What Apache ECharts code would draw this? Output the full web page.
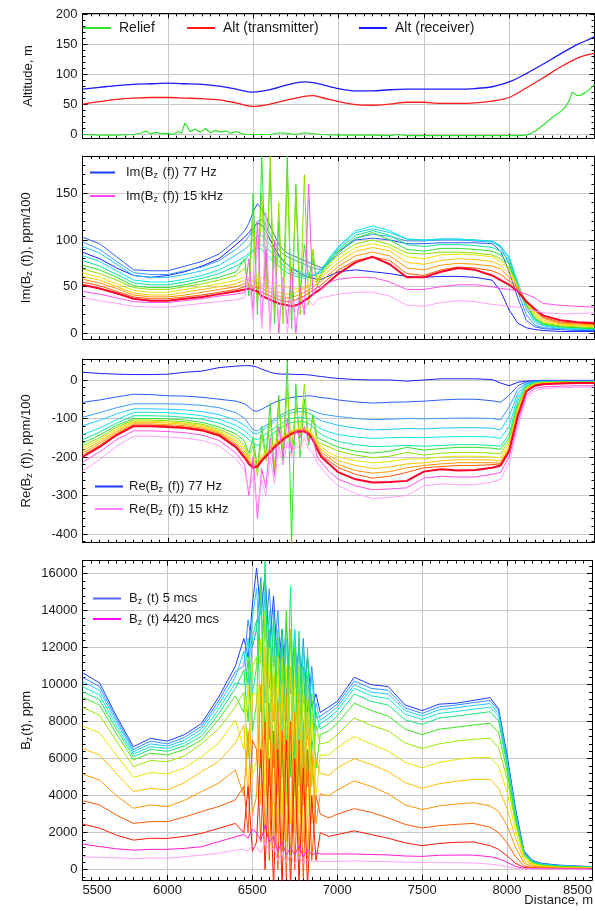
<!DOCTYPE html>
<html><head><meta charset="utf-8">
<script src="https://cdn.jsdelivr.net/npm/echarts@6/dist/echarts.min.js"></script>
<style>html,body{margin:0;padding:0;background:#fff;}#c{width:595px;height:911px;}</style>
</head><body><div id="c"></div>
<script>
// ---------- DATA ----------
const dist = [5500,5600,5700,5800,5900,6000,6100,6200,6300,6400,
  6450,6475,6500,6525,6550,6575,6600,6625,6650,6675,6700,6725,6750,6775,6800,6825,6850,6875,6900,
  6950,7000,7100,7200,7300,7400,7500,7600,7700,7800,7900,
  7950,8000,8050,8100,8150,8200,8300,8400,8500];

const altDist = [5500,5600,5700,5800,5900,6000,6100,6200,6300,6400,6500,6600,6700,6800,6850,6900,7000,7100,7200,7300,7400,7500,7600,7700,7800,7900,8000,8100,8200,8300,8400,8450,8500];
const altRx = [75,78,81,83,84,85,84,83,80,75,70,74,82,87,86,83,76,72,72,74,75,75,75,75,76,79,87,101,117,134,150,156,163];
const altTx = [50,54,58,60,61,61,60,59,57,52,46,50,57,63,64,61,54,49,48,50,53,53,51,51,52,55,61,77,94,112,127,132,135];
const reliefDist = [5500,5600,5700,5800,5850,5870,5900,5930,5960,6000,6030,6060,6080,6100,6110,6130,6160,6190,6220,6250,6280,6310,6340,6370,6400,6430,6460,6500,6600,6650,6700,6750,6800,6900,7000,7100,7200,7300,7350,7400,7500,7600,7700,7800,7900,8000,8050,8100,8130,8160,8200,8250,8300,8330,8350,8370,8380,8400,8420,8450,8480,8500];
const relief = [-1,-2,-2,-1,2,5,0,3,0,1,-1,4,1,18,14,4,8,3,9,2,6,3,5,1,4,1,-1,-1,-1,2,1,-1,2,-1,-2,-2,-2,-3,-1,-3,-3,-3,-3,-3,-3,-3,-3,-2,1,6,15,27,37,45,55,70,72,64,65,70,77,83];

// Im(Bz(f)), 77 Hz ... 15 kHz
const im0 = [87,80,70,62,60,62,66,72,80,95, 103,108,114,118,116,110,100,92,84,78,74,70,67,64,62,60,59,58,58, 62,66,68,66,64,61,60,61,61,60,57, 45,25,11,6,4,3,2,2,2];
const im1 = [103,96,82,68,67,67,72,77,85,100, 110,118,130,139,133,125,115,105,95,90,86,84,82,80,78,76,74,72,70, 78,88,100,102,100,96,96,97,97,97,96, 88,66,38,14,7,5,4,3,3];
const im2 = [98,90,77,65,63,63,67,71,78,90, 98,104,112,120,122,115,106,98,90,85,82,80,78,76,74,72,70,69,68, 76,86,102,106,104,99,99,100,100,99,98, 92,75,45,20,9,6,5,4,4];
const im3 = [93,86,74,62,60,60,63,67,73,84, 90,94,100,104,105,100,95,88,82,78,74,70,68,66,64,63,62,63,66, 80,92,108,112,108,101,100,101,101,100,99, 94,80,52,26,12,8,5,4,4];
const im4 = [83,77,67,57,55,55,58,62,68,77, 82,86,90,94,95,92,88,82,77,73,69,66,64,62,61,61,62,64,68, 82,93,110,115,110,101,100,101,101,100,98, 93,82,55,30,14,9,6,5,5];
const im5 = [78,72,63,54,52,52,55,59,64,72, 78,84,88,92,90,85,80,76,72,68,65,63,61,60,59,60,62,65,68, 80,90,105,110,105,95,93,95,95,94,92, 88,78,52,30,15,10,7,6,5];
const im6 = [73,68,60,51,49,49,52,56,60,66, 80,40,150,20,190,60,175,10,120,30,190,5,160,40,95,60,80,55,65, 78,88,102,108,100,90,88,91,91,90,88, 84,74,50,30,16,10,7,6,5];
const im7 = [69,64,57,49,47,47,50,53,57,62, 70,50,120,30,150,40,190,20,140,10,170,30,150,20,170,30,90,50,62, 75,84,96,100,95,86,85,87,87,86,84, 80,70,50,32,18,11,8,7,6];
const im8 = [65,60,53,46,44,44,47,50,53,57, 60,58,62,58,60,55,55,50,52,48,50,46,48,47,50,52,56,60,64, 72,80,92,96,92,82,80,84,85,84,82, 77,68,50,33,20,12,9,8,7];
const im9 = [61,57,50,43,41,41,44,47,50,53, 57,60,55,58,52,50,48,46,44,42,42,42,44,46,48,50,53,57,60, 68,76,88,92,88,76,74,78,80,79,77, 73,64,50,34,22,14,10,9,8];
const im10 = [58,54,48,41,39,39,41,44,47,50, 53,56,50,54,48,46,44,42,40,38,38,38,40,42,44,46,49,53,56, 64,72,83,87,83,70,68,73,75,74,72, 69,60,49,35,24,16,11,10,9];
const im11 = [55,51,45,39,37,37,39,41,44,47, 50,52,48,50,44,42,40,38,36,35,34,34,36,38,40,43,46,49,52, 60,68,78,82,78,64,62,68,71,70,67, 63,56,48,35,25,17,12,11,10];
const im12 = [52,48,43,37,35,35,37,39,42,45, 47,48,46,45,40,38,36,34,32,31,30,29,30,32,35,38,42,45,48, 56,64,76,82,74,60,60,66,70,68,62, 57,52,45,34,26,19,14,12,11];
const im13 = [45,42,38,34,33,33,35,37,40,42, 44,80,20,120,10,90,5,100,0,60,10,70,0,50,20,160,40,50,48, 55,58,60,60,55,47,47,50,52,52,50, 48,47,45,42,38,32,30,29,28];
const im14 = [38,35,32,29,28,28,30,32,34,36, 38,60,15,100,5,130,0,80,10,60,0,40,10,30,25,35,30,36,38, 40,42,44,44,40,30,29,33,35,34,31, 30,29,28,26,24,22,21,21,22];

// Re(Bz(f)), 77 Hz ... 15 kHz
const re0 = [20,17,15,14,14,15,20,23,32,36, 37,37,36,33,28,24,20,17,16,15,15,15,14,14,14,13,12,10,9, 6,4,1,0,0,-3,0,3,3,3,1, -8,-15,-6,-3,-2,-1,-1,-1,-1];
const re1 = [-58,-52,-44,-37,-38,-41,-42,-45,-50,-55, -62,-70,-80,-81,-76,-70,-64,-58,-54,-51,-48,-46,-44,-43,-42,-41,-42,-44,-46, -48,-52,-57,-60,-58,-57,-55,-52,-50,-50,-54, -58,-40,-15,-5,-3,-2,-2,-2,-2];
const re2 = [-97,-85,-72,-62,-62,-62,-63,-66,-72,-85, -100,-115,-130,-132,-125,-118,-110,-102,-95,-88,-82,-78,-75,-74,-74,-76,-80,-85,-88, -92,-95,-100,-103,-102,-100,-101,-100,-99,-99,-100, -104,-70,-25,-8,-4,-3,-3,-3,-3];
const re3 = [-119,-105,-88,-75,-75,-76,-78,-82,-90,-105, -118,-128,-138,-140,-132,-124,-116,-108,-100,-94,-88,-85,-83,-82,-83,-86,-92,-100,-106, -112,-118,-125,-130,-128,-126,-127,-125,-124,-124,-125, -130,-95,-35,-10,-5,-4,-4,-4,-4];
const re4 = [-142,-125,-103,-84,-84,-85,-88,-93,-102,-118, -132,-142,-152,-155,-148,-140,-132,-124,-116,-110,-104,-100,-98,-97,-98,-102,-110,-120,-128, -136,-142,-148,-152,-150,-149,-150,-148,-147,-147,-148, -152,-120,-45,-12,-6,-5,-4,-4,-4];
const re5 = [-155,-135,-112,-93,-93,-94,-97,-102,-112,-130, -145,-155,-165,-170,-162,-154,-145,-136,-128,-121,-115,-111,-109,-108,-109,-113,-122,-133,-142, -152,-160,-168,-173,-172,-170,-172,-170,-168,-168,-170, -172,-140,-55,-15,-7,-5,-5,-5,-5];
const re6 = [-164,-143,-118,-100,-100,-101,-104,-110,-122,-140, -160,-190,-150,-230,-120,-200,-60,-250,-40,-220,50,-425,-10,-200,-50,-170,-90,-150,-155, -165,-175,-185,-190,-185,-175,-182,-178,-175,-175,-177, -180,-150,-65,-18,-8,-6,-5,-5,-5];
const re7 = [-171,-150,-123,-104,-104,-106,-109,-115,-128,-148, -170,-200,-170,-250,-140,-210,-100,-230,-60,-190,-20,-180,-60,-150,-10,-160,-100,-160,-165, -175,-185,-195,-202,-198,-188,-195,-190,-188,-188,-190, -192,-158,-70,-20,-9,-7,-6,-6,-6];
const re8 = [-177,-155,-128,-107,-107,-109,-112,-118,-132,-155, -178,-200,-215,-205,-195,-185,-175,-165,-155,-145,-138,-132,-128,-126,-126,-130,-142,-160,-175, -190,-200,-210,-215,-212,-205,-205,-200,-198,-198,-200, -202,-165,-75,-22,-10,-7,-6,-6,-6];
const re9 = [-184,-160,-132,-110,-110,-112,-115,-121,-135,-160, -185,-205,-220,-215,-200,-190,-180,-168,-158,-148,-140,-134,-130,-128,-128,-133,-146,-165,-182, -198,-210,-222,-230,-226,-218,-215,-210,-207,-207,-208, -210,-172,-80,-24,-11,-8,-7,-7,-7];
const re10 = [-190,-165,-136,-114,-114,-116,-119,-125,-138,-165, -192,-210,-222,-218,-205,-193,-182,-170,-160,-150,-142,-136,-132,-130,-130,-136,-150,-170,-188, -205,-220,-235,-242,-238,-228,-222,-218,-215,-215,-215, -216,-178,-85,-26,-12,-9,-8,-8,-7];
const re11 = [-196,-170,-140,-117,-117,-119,-122,-128,-141,-170, -198,-215,-225,-222,-208,-196,-185,-172,-162,-152,-145,-138,-134,-132,-132,-138,-153,-175,-195, -212,-228,-245,-255,-250,-240,-228,-225,-222,-222,-220, -218,-182,-90,-28,-14,-10,-9,-8,-8];
const re12 = [-200,-174,-143,-120,-120,-122,-125,-131,-144,-175, -202,-218,-228,-225,-210,-198,-187,-175,-165,-155,-147,-140,-136,-134,-134,-140,-156,-180,-200, -220,-240,-258,-266,-265,-262,-238,-232,-235,-234,-228, -222,-185,-95,-30,-15,-11,-9,-8,-8];
const re13 = [-214,-187,-155,-132,-132,-134,-137,-143,-157,-190, -220,-300,-200,-360,-230,-280,-150,-250,-120,-200,-100,-190,-130,-150,-120,-160,-150,-200,-215, -240,-258,-275,-285,-283,-280,-255,-250,-252,-252,-245, -240,-200,-110,-40,-22,-18,-16,-15,-15];
const re14 = [-237,-207,-172,-146,-146,-148,-151,-157,-170,-205, -235,-290,-250,-330,-260,-300,-200,-270,-170,-220,-160,-200,-170,-180,-150,-180,-190,-215,-230, -255,-275,-295,-308,-305,-300,-275,-270,-272,-272,-265, -258,-215,-125,-48,-28,-22,-20,-19,-18];

// Bz(t), 5 mcs ... 4420 mcs
const bz0 = [10650,10100,8300,6650,7100,6950,7300,7900,9300,11000, 12500,11500,14300,16300,13800,16000,12000,14800,10500,13000,9500,12500,9800,12000,9000,11500,8800,9500,8500, 8800,9100,10400,10000,9900,8900,8600,8950,9000,9150,9300, 8700,6200,3300,1000,500,350,250,200,170];
const bz1 = [10400,9900,8150,6500,6950,6800,7150,7750,9100,10700, 11000,13500,12000,13000,15800,12500,15200,11000,14000,10000,13500,9500,12800,9000,12500,8500,11000,8200,8300, 8600,8950,10200,9800,9700,8750,8450,8800,8900,9030,9150, 8600,6000,3150,950,480,330,230,190,160];
const bz2 = [10160,9700,8000,6380,6800,6680,7000,7600,8900,10400, 11800,10000,13600,15200,11200,15000,9800,13500,8500,12000,8000,13000,8000,12500,7500,10500,7800,9000,8100, 8400,8800,10000,9600,9500,8600,8300,8650,8750,8870,8980, 8450,5900,3050,900,450,310,210,180,150];
const bz3 = [9890,9450,7800,6250,6650,6550,6850,7400,8650,10100, 10000,12500,9500,11000,14500,9000,14000,8000,13000,7500,12500,7000,13000,6800,12000,7000,10500,7500,7900, 8200,8600,9800,9400,9250,8400,8120,8450,8550,8680,8780, 8300,5800,2950,880,430,290,200,170,140];
const bz4 = [9620,9200,7600,6110,6500,6400,6700,7200,8400,9800, 10800,8000,12500,13500,8500,16700,7000,14000,6000,13000,6000,15300,6000,12900,5500,12000,6500,8500,7600, 7900,8300,9500,9100,8900,8100,7850,8200,8300,8420,8540, 8050,5600,2800,850,400,270,190,160,130];
const bz5 = [9320,8900,7350,5930,6300,6200,6500,7000,8100,9400, 8500,11500,7500,9000,15500,7000,13000,5500,12500,5000,14000,5000,12000,4500,11000,4500,9500,5500,7300, 7500,7900,9000,8600,8300,7600,7300,7600,7700,7820,7910, 7400,5300,2650,800,380,250,170,150,120];
const bz6 = [8780,8350,6950,5570,5900,5840,6150,6800,7600,8800, 9600,6000,11000,11500,5500,14000,4500,12000,4000,11500,3500,13000,4000,11000,3500,10000,4500,7800,6800, 6900,7300,8200,7800,7500,6850,6550,6800,6950,7050,7100, 6600,4900,2450,750,350,230,150,130,110];
const bz7 = [7770,7400,6200,4990,5250,5170,5500,6110,6830,8090, 6500,10000,5000,6000,12500,4000,12000,3500,11500,3000,11000,2500,10500,3000,10000,2500,8500,4000,6200, 6200,6600,7200,6800,6400,5800,5500,5800,5950,6050,6070, 5600,4200,2100,650,300,200,130,110,100];
const bz8 = [6560,6200,5200,4220,4400,4310,4700,5300,5840,6830, 7800,4000,9500,9500,3500,12000,2500,10500,2000,10000,1500,11000,2000,9500,1500,8500,2500,6000,5200, 5100,5500,6000,5700,5300,4700,4400,4650,4780,4880,4880, 4400,3300,1700,500,250,170,110,100,90];
const bz9 = [5170,4850,4000,3320,3500,3410,3750,4220,4670,5390, 4000,7500,3000,4000,10000,2000,9000,1500,9000,1000,9500,500,8500,1000,7500,500,6500,2500,4100, 4000,4300,4800,4500,4100,3500,3250,3450,3550,3620,3450, 3150,2400,1200,350,180,140,90,80,70];
const bz10 = [3730,3500,2950,2500,2600,2600,2850,3140,3410,3770, 4500,2000,7000,6500,1500,8000,500,7500,0,7500,-500,8000,0,7000,-500,6500,500,4000,3000, 2800,3000,3300,3100,2800,2450,2250,2380,2450,2500,2300, 2000,1450,700,200,120,100,70,70,60];
const bz11 = [2470,2250,1870,1600,1700,1690,1800,1960,2230,2500, 2000,4500,1000,1500,6500,0,6000,-900,6500,-900,7000,-900,6000,-600,5500,-900,4000,500,2000, 1800,1900,2100,1900,1700,1450,1300,1420,1480,1500,1300, 1100,750,350,120,80,70,60,55,50];
const bz12 = [1390,1250,1130,1060,1100,1100,1150,1240,1510,1780, 1900,1700,2200,2000,1600,2400,1500,1800,1000,1500,800,1200,800,1300,700,1100,800,900,850, 850,850,850,820,800,740,720,780,790,790,700, 600,400,180,70,60,50,45,40,40];
const bz13 = [700,660,640,600,640,620,700,790,880,1060, 1100,1000,1300,1200,900,1500,1000,1200,500,900,400,800,300,700,350,600,400,450,450, 450,450,480,450,430,410,390,400,380,360,300, 250,150,80,50,40,40,35,30,30];

const yTitles = ['Altitude, m', '{t|Im(B}{s|z}{t| (f)), ppm/100}', '{t|Re(B}{s|z}{t| (f)), ppm/100}', '{t|B}{s|z}{t|(t), ppm}'];
const legendText = {
  im77: '{t|Im(B}{s|z}{t| (f)) 77 Hz}', im15k: '{t|Im(B}{s|z}{t| (f)) 15 kHz}',
  re77: '{t|Re(B}{s|z}{t| (f)) 77 Hz}', re15k: '{t|Re(B}{s|z}{t| (f)) 15 kHz}',
  bz5: '{t|B}{s|z}{t| (t) 5 mcs}', bz4420: '{t|B}{s|z}{t| (t) 4420 mcs}'
};

// ---------- STYLE ----------
const FONT = '"Liberation Sans", Arial, Helvetica, sans-serif';
const TXT = '#1a1a1a';
const freqColors = ['#1a20ff','#2a5cff','#3a9aff','#20c8ff','#10e6e6','#10e6a0','#30e030','#8ee000','#e6e600','#ffc400','#ff9600','#ff5a00','#ff0028','#ff50ee','#ffa0ff'];
const timeColors = ['#1f3cff','#2f8fff','#22c8ff','#14e6d2','#18e676','#3ee61e','#98e600','#e6e600','#ffc000','#ff9400','#ff5a00','#ff1a00','#ff1ad2','#ffa0ff'];
const layout = [
  {top: 13.3, height: 125.4, min: -8, max: 202, split: 4},
  {top: 156, height: 183.3, min: -6.4, max: 190, split: 4},
  {top: 359, height: 183.7, min: -422.5, max: 54.4, split: 5},
  {top: 560.7, height: 319.3, min: -557, max: 16703, split: 8}
];
const rich = {
  t: {fontSize: 13, fontFamily: FONT, color: TXT},
  s: {fontSize: 9, fontFamily: FONT, color: TXT, padding: [7, 1, 0, 0]}
};
const tickLine = {color: '#000', width: 1};
const plain = v => String(v);

const grid = layout.map(l => ({left: 82.5, right: 0.5, top: l.top, height: l.height}));
const xAxis = [], yAxis = [];
[false, true].forEach(second => {
  layout.forEach((l, i) => {
    xAxis.push({
      type: 'value', gridIndex: i, min: 5500, max: 8500, splitNumber: 6,
      position: second ? 'top' : 'bottom',
      axisLine: {show: true, onZero: false, lineStyle: {color: '#000', width: 1}},
      axisTick: {show: true, inside: true, length: 5, lineStyle: tickLine},
      minorTick: {show: true, splitNumber: 10, length: 3, lineStyle: tickLine},
      splitLine: {show: !second, lineStyle: {color: '#c8c8c8', width: 1}},
      axisLabel: {show: !second && i === 3, fontSize: 13, fontFamily: FONT, color: TXT, margin: 4,
        formatter: plain, alignMinLabel: 'left', alignMaxLabel: 'right'}
    });
    yAxis.push({
      type: 'value', gridIndex: i, min: l.min, max: l.max, splitNumber: l.split,
      position: second ? 'right' : 'left',
      name: second ? '' : yTitles[i], nameLocation: 'middle', nameRotate: 90, nameGap: 48,
      nameMoveOverlap: false,
      nameTextStyle: {fontSize: 13, fontFamily: FONT, color: TXT, rich: rich},
      axisLine: {show: true, onZero: false, lineStyle: {color: '#000', width: 1}},
      axisTick: {show: true, inside: true, length: 5, lineStyle: tickLine},
      minorTick: {show: true, splitNumber: 5, length: 3, lineStyle: tickLine},
      splitLine: {show: !second, lineStyle: {color: '#c8c8c8', width: 1}},
      axisLabel: {show: !second, fontSize: 13, fontFamily: FONT, color: TXT, margin: 5,
        formatter: plain, showMinLabel: false, showMaxLabel: false}
    });
  });
});

function mk(xs, ys, ax, color, width, name, smooth) {
  return {type: 'line', name: name, xAxisIndex: ax, yAxisIndex: ax,
    data: xs.map((x, k) => [x, ys[k]]), symbol: 'none', showSymbol: false,
    smooth: smooth || false,
    lineStyle: {color: color, width: width}, itemStyle: {color: color},
    animation: false, silent: true, clip: true};
}
const series = [];
series.push(mk(reliefDist, relief, 0, '#2ee62e', 1.2, 'Relief'));
series.push(mk(altDist, altTx, 0, '#ff1a1a', 1.3, 'Alt (transmitter)', 0.3));
series.push(mk(altDist, altRx, 0, '#1a1aff', 1.3, 'Alt (receiver)', 0.3));
const imAll = [im0,im1,im2,im3,im4,im5,im6,im7,im8,im9,im10,im11,im12,im13,im14];
const reAll = [re0,re1,re2,re3,re4,re5,re6,re7,re8,re9,re10,re11,re12,re13,re14];
const bzAll = [bz0,bz1,bz2,bz3,bz4,bz5,bz6,bz7,bz8,bz9,bz10,bz11,bz12,bz13];
imAll.forEach((v, k) => series.push(mk(dist, v, 1, freqColors[k], k === 12 ? 2 : 1,
  k === 0 ? 'im77' : (k === 14 ? 'im15k' : 'im_' + k))));
reAll.forEach((v, k) => series.push(mk(dist, v, 2, freqColors[k], k === 12 ? 2 : 1,
  k === 0 ? 're77' : (k === 14 ? 're15k' : 're_' + k))));
bzAll.forEach((v, k) => series.push(mk(dist, v, 3, timeColors[k], 1,
  k === 0 ? 'bz5' : (k === 13 ? 'bz4420' : 'bz_' + k))));

const legTS = {fontSize: 13, fontFamily: FONT, color: TXT, rich: rich};
const legTS1 = {fontSize: 14, fontFamily: FONT, color: TXT, padding: [0, 0, 0, 3]};
const legendBase = {icon: 'rect', itemHeight: 2, selectedMode: false, padding: 0,
  formatter: n => legendText[n] || n, textStyle: legTS};
const legend = [
  Object.assign({}, legendBase, {left: 83, top: 21, itemWidth: 28, textStyle: legTS1, data: ['Relief']}),
  Object.assign({}, legendBase, {left: 187, top: 21, itemWidth: 28, textStyle: legTS1, data: ['Alt (transmitter)']}),
  Object.assign({}, legendBase, {left: 359, top: 21, itemWidth: 28, textStyle: legTS1, data: ['Alt (receiver)']}),
  Object.assign({}, legendBase, {orient: 'vertical', left: 90, top: 166, itemWidth: 25, itemGap: 9,
    textStyle: Object.assign({}, legTS, {padding: [0, 0, 0, 6]}),
    data: [{name: 'im77', itemStyle: {color: '#1a3cff'}}, {name: 'im15k', itemStyle: {color: '#ff44ff'}}]}),
  Object.assign({}, legendBase, {orient: 'vertical', left: 95, top: 480, itemWidth: 28, itemGap: 8,
    textStyle: Object.assign({}, legTS, {padding: [0, 0, 0, 1]}),
    data: [{name: 're77', itemStyle: {color: '#1a3cff'}}, {name: 're15k', itemStyle: {color: '#ff80ff'}}]}),
  Object.assign({}, legendBase, {orient: 'vertical', left: 93, top: 592, itemWidth: 28, itemGap: 6,
    textStyle: Object.assign({}, legTS, {padding: [0, 0, 0, 3]}),
    data: [{name: 'bz5', itemStyle: {color: '#5068ff'}}, {name: 'bz4420', itemStyle: {color: '#ff00ff'}}]})
];

const chart = echarts.init(document.getElementById('c'), null, {renderer: 'canvas'});
chart.setOption({
  animation: false,
  backgroundColor: '#fff',
  grid: grid, xAxis: xAxis, yAxis: yAxis, legend: legend, series: series,
  graphic: [{type: 'text', right: 2, top: 894,
    style: {text: 'Distance, m', font: '13px ' + FONT, fill: TXT}}]
});
</script></body></html>
